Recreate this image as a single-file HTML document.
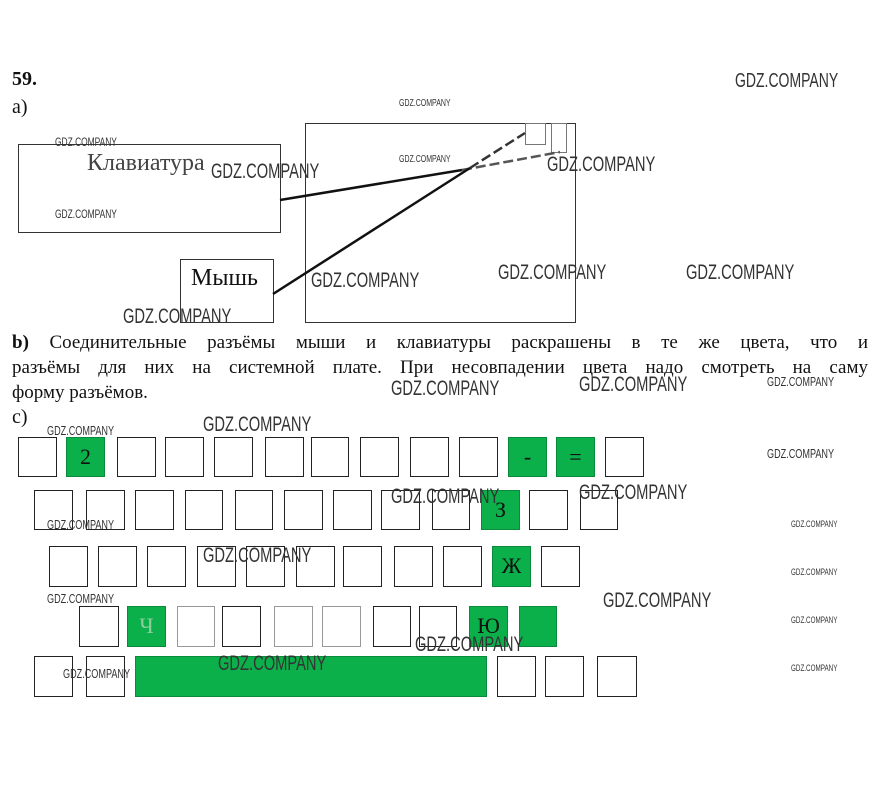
<!DOCTYPE html>
<html><head><meta charset="utf-8"><style>
body{margin:0;width:877px;height:794px;background:#fff;position:relative;overflow:hidden;font-family:"Liberation Serif",serif;color:#111}
.a{position:absolute}
.k{position:absolute;border:1px solid #222;box-sizing:border-box;background:#fff;text-align:center;font-size:22px;line-height:38px}
.g{background:#0bb04a;border-color:#0a8a3a}
.w{position:absolute;font-family:"Liberation Sans",sans-serif;color:#333;white-space:nowrap;transform:scaleX(.7);transform-origin:0 0}
.box{position:absolute;border:1px solid #333;box-sizing:border-box}
.ln{position:absolute;left:12px;width:856px;font-size:19px;line-height:25px;text-align:justify;text-align-last:justify;white-space:nowrap}
</style></head><body>
<div class="a" style="left:12px;top:68px;font-weight:bold;font-size:20px">59.</div>
<div class="a" style="left:12px;top:96px;font-size:20px">а)</div>

<div class="box" style="left:18px;top:144px;width:263px;height:89px"></div>
<div class="a" style="left:87px;top:150px;font-size:24px;color:#444">Клавиатура</div>
<div class="box" style="left:180px;top:259px;width:94px;height:64px"></div>
<div class="a" style="left:191px;top:265px;font-size:24px">Мышь</div>
<div class="box" style="left:305px;top:123px;width:271px;height:200px"></div>
<div class="box" style="left:525px;top:123px;width:21px;height:22px;border-color:#777"></div>
<div class="box" style="left:551px;top:123px;width:16px;height:30px;border-color:#777"></div>
<svg class="a" style="left:0;top:0" width="877" height="794">
<line x1="280" y1="200" x2="462" y2="170" stroke="#111" stroke-width="2.5"/>
<line x1="462" y1="170" x2="560" y2="152" stroke="#555" stroke-width="2.5" stroke-dasharray="10 4"/>
<line x1="273" y1="294" x2="470" y2="168" stroke="#111" stroke-width="2.5"/>
<line x1="470" y1="168" x2="525" y2="133" stroke="#333" stroke-width="2.5" stroke-dasharray="10 4"/>
</svg>

<div class="ln" style="top:330px"><b>b)</b> Соединительные разъёмы мыши и клавиатуры раскрашены в те же цвета, что и</div>
<div class="ln" style="top:355px">разъёмы для них на системной плате. При несовпадении цвета надо смотреть на саму</div>
<div class="a" style="left:12px;top:380px;font-size:19px;line-height:25px">форму разъёмов.</div>
<div class="a" style="left:12px;top:406px;font-size:20px">с)</div>

<!-- row1 -->
<div class="k" style="left:18px;top:437px;width:39px;height:40px"></div>
<div class="k g" style="left:66px;top:437px;width:39px;height:40px">2</div>
<div class="k" style="left:117px;top:437px;width:39px;height:40px"></div>
<div class="k" style="left:165px;top:437px;width:39px;height:40px"></div>
<div class="k" style="left:214px;top:437px;width:39px;height:40px"></div>
<div class="k" style="left:265px;top:437px;width:39px;height:40px"></div>
<div class="k" style="left:311px;top:437px;width:38px;height:40px"></div>
<div class="k" style="left:360px;top:437px;width:39px;height:40px"></div>
<div class="k" style="left:410px;top:437px;width:39px;height:40px"></div>
<div class="k" style="left:459px;top:437px;width:39px;height:40px"></div>
<div class="k g" style="left:508px;top:437px;width:39px;height:40px">-</div>
<div class="k g" style="left:556px;top:437px;width:39px;height:40px">=</div>
<div class="k" style="left:605px;top:437px;width:39px;height:40px"></div>
<!-- row2 -->
<div class="k" style="left:34px;top:490px;width:39px;height:40px"></div>
<div class="k" style="left:86px;top:490px;width:39px;height:40px"></div>
<div class="k" style="left:135px;top:490px;width:39px;height:40px"></div>
<div class="k" style="left:185px;top:490px;width:38px;height:40px"></div>
<div class="k" style="left:235px;top:490px;width:38px;height:40px"></div>
<div class="k" style="left:284px;top:490px;width:39px;height:40px"></div>
<div class="k" style="left:333px;top:490px;width:39px;height:40px"></div>
<div class="k" style="left:381px;top:490px;width:39px;height:40px"></div>
<div class="k" style="left:432px;top:490px;width:38px;height:40px"></div>
<div class="k g" style="left:481px;top:490px;width:39px;height:40px">З</div>
<div class="k" style="left:529px;top:490px;width:39px;height:40px"></div>
<div class="k" style="left:580px;top:490px;width:38px;height:40px"></div>
<!-- row3 -->
<div class="k" style="left:49px;top:546px;width:39px;height:41px"></div>
<div class="k" style="left:98px;top:546px;width:39px;height:41px"></div>
<div class="k" style="left:147px;top:546px;width:39px;height:41px"></div>
<div class="k" style="left:197px;top:546px;width:39px;height:41px"></div>
<div class="k" style="left:246px;top:546px;width:39px;height:41px"></div>
<div class="k" style="left:296px;top:546px;width:39px;height:41px"></div>
<div class="k" style="left:343px;top:546px;width:39px;height:41px"></div>
<div class="k" style="left:394px;top:546px;width:39px;height:41px"></div>
<div class="k" style="left:443px;top:546px;width:39px;height:41px"></div>
<div class="k g" style="left:492px;top:546px;width:39px;height:41px">Ж</div>
<div class="k" style="left:541px;top:546px;width:39px;height:41px"></div>
<!-- row4 -->
<div class="k" style="left:79px;top:606px;width:40px;height:41px"></div>
<div class="k g" style="left:127px;top:606px;width:39px;height:41px;color:#8fcf9f">Ч</div>
<div class="k" style="left:177px;top:606px;width:38px;height:41px;border-color:#999"></div>
<div class="k" style="left:222px;top:606px;width:39px;height:41px"></div>
<div class="k" style="left:274px;top:606px;width:39px;height:41px;border-color:#999"></div>
<div class="k" style="left:322px;top:606px;width:39px;height:41px;border-color:#999"></div>
<div class="k" style="left:373px;top:606px;width:38px;height:41px"></div>
<div class="k" style="left:419px;top:606px;width:38px;height:41px"></div>
<div class="k g" style="left:469px;top:606px;width:39px;height:41px">Ю</div>
<div class="k g" style="left:519px;top:606px;width:38px;height:41px"></div>
<!-- row5 -->
<div class="k" style="left:34px;top:656px;width:39px;height:41px"></div>
<div class="k" style="left:86px;top:656px;width:39px;height:41px"></div>
<div class="k g" style="left:135px;top:656px;width:352px;height:41px"></div>
<div class="k" style="left:497px;top:656px;width:39px;height:41px"></div>
<div class="k" style="left:545px;top:656px;width:39px;height:41px"></div>
<div class="k" style="left:597px;top:656px;width:40px;height:41px"></div>

<!-- watermarks -->
<div class="w" style="left:735px;top:70px;font-size:20px">GDZ.COMPANY</div>
<div class="w" style="left:399px;top:98px;font-size:10px">GDZ.COMPANY</div>
<div class="w" style="left:55px;top:135px;font-size:12px">GDZ.COMPANY</div>
<div class="w" style="left:211px;top:160px;font-size:21px">GDZ.COMPANY</div>
<div class="w" style="left:399px;top:154px;font-size:10px">GDZ.COMPANY</div>
<div class="w" style="left:547px;top:153px;font-size:21px">GDZ.COMPANY</div>
<div class="w" style="left:55px;top:207px;font-size:12px">GDZ.COMPANY</div>
<div class="w" style="left:498px;top:261px;font-size:21px">GDZ.COMPANY</div>
<div class="w" style="left:686px;top:261px;font-size:21px">GDZ.COMPANY</div>
<div class="w" style="left:311px;top:269px;font-size:21px">GDZ.COMPANY</div>
<div class="w" style="left:123px;top:305px;font-size:21px">GDZ.COMPANY</div>
<div class="w" style="left:391px;top:377px;font-size:21px">GDZ.COMPANY</div>
<div class="w" style="left:579px;top:373px;font-size:21px">GDZ.COMPANY</div>
<div class="w" style="left:767px;top:374px;font-size:13px">GDZ.COMPANY</div>
<div class="w" style="left:47px;top:423px;font-size:13px">GDZ.COMPANY</div>
<div class="w" style="left:203px;top:413px;font-size:21px">GDZ.COMPANY</div>
<div class="w" style="left:767px;top:446px;font-size:13px">GDZ.COMPANY</div>
<div class="w" style="left:391px;top:485px;font-size:21px">GDZ.COMPANY</div>
<div class="w" style="left:579px;top:481px;font-size:21px">GDZ.COMPANY</div>
<div class="w" style="left:47px;top:517px;font-size:13px">GDZ.COMPANY</div>
<div class="w" style="left:791px;top:519px;font-size:9px">GDZ.COMPANY</div>
<div class="w" style="left:203px;top:544px;font-size:21px">GDZ.COMPANY</div>
<div class="w" style="left:791px;top:567px;font-size:9px">GDZ.COMPANY</div>
<div class="w" style="left:47px;top:591px;font-size:13px">GDZ.COMPANY</div>
<div class="w" style="left:603px;top:589px;font-size:21px">GDZ.COMPANY</div>
<div class="w" style="left:791px;top:615px;font-size:9px">GDZ.COMPANY</div>
<div class="w" style="left:415px;top:633px;font-size:21px">GDZ.COMPANY</div>
<div class="w" style="left:218px;top:652px;font-size:21px">GDZ.COMPANY</div>
<div class="w" style="left:63px;top:666px;font-size:13px">GDZ.COMPANY</div>
<div class="w" style="left:791px;top:663px;font-size:9px">GDZ.COMPANY</div>
</body></html>
